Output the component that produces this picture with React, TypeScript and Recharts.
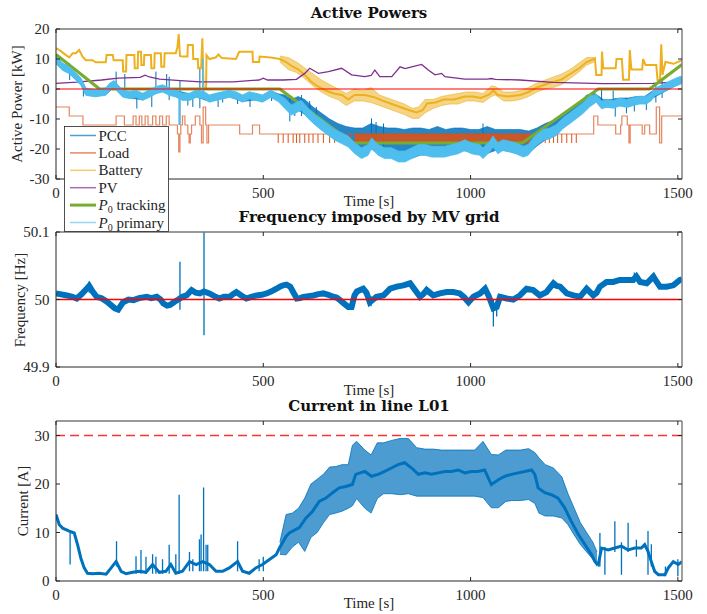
import React from 'react';
import { ComposedChart, Line, Area, XAxis, YAxis, ReferenceLine } from 'recharts';

const T_MAX = 1510;
const xTicks = [0, 500, 1000, 1500];
const p1Ticks = [-30, -20, -10, 0, 10, 20];
const p2Ticks = [49.9, 50, 50.1];
const p3Ticks = [0, 10, 20, 30];

// ---------- Plot 1: Active powers [t, kW] ----------
const p0Tracking = [[0, 11.5], [105, 0], [540, 0], [715, -18], [1125, -18], [1308, 0], [1432, 0], [1510, 8.2]];

// P0 primary: noisy band [t, low, high]
const p0Primary = [[0, 8.4, 10.8], [16, 6.2, 8.6], [32, 5.1, 7.5], [48, 2.9, 5.3], [60, 1.3, 3.7], [72, -2.1, 0.3], [80, -2.3, 0.1], [95, -2.6, -0.2], [110, -2.3, 0.1], [120, -2.1, 0.3], [129, -0.5, 1.9], [140, 0.4, 2.8], [149, -1, 1.4], [161, -2.7, -0.3], [177, -3.2, -0.8], [193, -2.8, -0.4], [209, -3.8, -1.4], [225, -2.8, -0.4], [241, -1.6, 0.8], [257, -1, 1.4], [273, -2.1, 0.3], [289, -2.7, -0.3], [305, -3.8, -1.4], [322, -3.8, -1.4], [338, -2.8, -0.4], [358, -3.3, -0.9], [370, -4.4, -2], [386, -3.8, -1.4], [402, -3.3, -0.9], [418, -2.8, -0.4], [434, -3.3, -0.9], [450, -4.4, -2], [466, -3.3, -0.9], [482, -3.8, -1.4], [498, -4.4, -2], [518, -2.8, -0.4], [536, -4.2, -1.8], [552, -6.5, -3.1], [568, -8.7, -5.3], [584, -7.6, -4.2], [592, -7.2, -3.8], [608, -9.8, -6.4], [625, -12, -8.6], [641, -13.8, -10.2], [657, -15.5, -11.9], [673, -17.1, -13.5], [689, -18.2, -14.6], [705, -19.3, -15.7], [721, -21.6, -18], [737, -23.2, -19.6], [753, -22.1, -18.5], [761, -19.9, -16.3], [777, -22.1, -18.5], [793, -23.2, -19.6], [809, -23.2, -19.6], [826, -24.3, -20.7], [842, -24.3, -20.7], [858, -23.2, -19.6], [874, -22.1, -18.5], [890, -22.1, -18.5], [906, -22.7, -19.1], [922, -22.7, -19.1], [938, -22.7, -19.1], [954, -22.1, -18.5], [970, -21.6, -18], [986, -20.5, -16.9], [1002, -21.6, -18], [1022, -22.1, -18.5], [1030, -23.2, -19.6], [1046, -21, -17.4], [1054, -19.3, -15.7], [1066, -21.6, -18], [1078, -20.5, -16.9], [1094, -21, -17.4], [1110, -21.6, -18], [1127, -22.7, -19.1], [1139, -22.1, -18.5], [1151, -19.9, -16.3], [1159, -18.8, -15.2], [1175, -17.1, -13.5], [1191, -16.6, -13], [1207, -15.5, -11.9], [1223, -13.2, -9.6], [1239, -11.6, -8], [1255, -9.9, -6.3], [1271, -8.2, -4.6], [1287, -6, -2.4], [1303, -4.4, -1.8], [1316, -6.6, -4], [1328, -6.1, -3.5], [1344, -6.4, -3.8], [1360, -5.7, -3.1], [1376, -6.1, -3.5], [1392, -5.5, -2.9], [1408, -5, -2.4], [1424, -5, -2.4], [1436, -3.9, -1.3], [1444, -2.3, 0.3], [1456, -1.6, 1], [1472, -0.5, 2.1], [1488, 0.6, 3.2], [1508, 1.7, 4.3]];
const p0PrimarySpikes = [[297, -12, -1], [354, -1.5, 10.2]];

const pccBand = [[0, 8.5, 11], [16, 6.5, 8.5], [32, 5.3, 7.3], [48, 3.1, 5.1], [60, 1.5, 3.5], [72, -1.9, 0.1], [95, -2.4, -0.4], [120, -1.9, 0.1], [140, 0.6, 2.6], [161, -2.5, -0.5], [177, -3, -1], [209, -3.6, -1.6], [241, -1.4, 0.6], [257, -0.8, 1.2], [289, -2.5, -0.5], [322, -3.6, -1.6], [338, -2.6, -0.6], [370, -4.2, -2.2], [402, -3.1, -1.1], [418, -2.6, -0.6], [450, -4.2, -2.2], [482, -3.6, -1.6], [498, -4.2, -2.2], [518, -2.6, -0.6], [536, -3.6, -1.6], [552, -6, -2], [568, -8, -3.5], [584, -7, -2.5], [600, -8.5, -3.5], [620, -11, -6], [640, -13, -8], [660, -15, -10], [680, -16.5, -11.5], [700, -18, -12.5], [720, -20.5, -13], [740, -22, -13], [760, -20, -11.5], [780, -21.5, -12.5], [800, -22.5, -13], [820, -23, -13], [840, -23.5, -13.5], [860, -23, -13], [880, -22, -13], [900, -22, -13.5], [920, -22, -12.5], [940, -22, -13.5], [960, -21.5, -13], [980, -20.5, -13], [1000, -21, -13.5], [1020, -21.5, -13.5], [1040, -21.5, -12.5], [1060, -20.5, -13.5], [1080, -20.5, -13.5], [1100, -21, -13.5], [1120, -22, -13.5], [1140, -21.5, -14], [1160, -19, -13], [1180, -17, -11.5], [1200, -15.5, -10.5], [1220, -12.5, -8.5], [1240, -11, -6.5], [1260, -9, -5], [1280, -6, -2], [1300, -4, -1.5], [1320, -6, -3.5], [1340, -6, -3.5], [1360, -5.5, -3], [1380, -6, -3], [1400, -5, -2.5], [1420, -4.5, -2.5], [1440, -3, -0.5], [1460, -1.5, 1], [1480, 0, 2], [1500, 1.5, 3.5], [1510, 2, 4]];
const pccSpikes = [[33, 3, 8.5], [66, -2.5, 2], [145, 0.5, 5.8], [166, -1, 5], [195, -6.5, -1], [231, -6, -1], [241, -0.5, 5.8], [267, -1, 5], [273, -3.7, 4.1], [299, -12, 3], [318, -5.5, -1.5], [330, -6, -1.5], [347, -6.4, 7.4], [355, -2, 9], [391, -6, -1.5], [402, -4.5, -1.5], [438, -5, -1.5], [468, -6, -1.5], [482, -4, -1.5], [520, -4, -1], [564, -10.8, -3], [576, -9, -3], [592, -9, -2], [612, -10, -4], [628, -12, -6], [761, -20, -9.8], [772, -19, -11], [790, -20, -11.5], [1030, -20, -11.5], [1316, -5, -0.3], [1344, -5, -0.5], [1349, -9.2, -3], [1376, -8.1, -3], [1395, -7.5, -3], [1424, -7, -3], [1447, -4.5, 2], [1462, -3, 3]];

const loadSteps = [[0, -6], [32, -9], [65, -12], [145, -9], [165, -12], [186, -9], [193, -12], [201, -9], [207, -12], [215, -9], [222, -12], [233, -9], [241, -12], [250, -9], [257, -12], [266, -9], [273, -12], [293, -15], [296, -21], [299, -15], [301, -12], [305, -9], [311, -12], [318, -15], [321, -18], [324, -15], [327, -12], [336, -9], [347, -12], [351, -18], [355, -6], [361, -12], [364, -18], [368, -12], [443, -15], [474, -12], [491, -15], [1297, -9], [1307, -12], [1350, -15], [1362, -12], [1365, -9], [1378, -12], [1382, -18], [1385, -12], [1414, -15], [1420, -12], [1432, -15], [1448, -6], [1456, -18], [1461, -9], [1510, -9]];
const loadBand = [[720, -18, -15], [1143, -18, -15]];
const loadSpikeTimes = [536, 548, 560, 572, 580, 588, 600, 610, 620, 632, 645, 660, 672, 685, 700, 712, 1160, 1170, 1180, 1190, 1200, 1210, 1220, 1232, 1244, 1255];

const batteryLine = [[0, 13.6], [10, 12.8], [25, 11.2], [32, 10.5], [40, 11.9], [48, 11.9], [56, 13], [64, 10.8], [72, 9.6], [88, 9.6], [96, 8.9], [120, 8.9], [122, 11.3], [137, 11.3], [139, 9.6], [161, 9.6], [162, 5.8], [169, 5.8], [170, 11.3], [189, 11.3], [190, 6.9], [197, 6.9], [198, 12.4], [205, 12.4], [206, 8], [212, 8], [213, 11.3], [229, 11.3], [230, 6.9], [237, 6.9], [238, 11.9], [253, 11.9], [254, 7.4], [261, 7.4], [262, 11.9], [289, 11.9], [293, 14], [296, 18.3], [299, 11], [305, 10.8], [317, 10.8], [318, 14.7], [330, 14.7], [331, 10], [342, 10], [343, 6.9], [350, 6.9], [353, 16.9], [356, 0.2], [362, 0.2], [363, 11.3], [370, 10], [385, 10.5], [392, 11.5], [400, 10.3], [434, 10], [442, 12.4], [474, 12.4], [475, 9], [490, 9], [491, 10.8], [518, 10.5], [540, 10], [555, 9], [570, 7.5], [585, 6.5], [600, 4.7], [615, 2.5], [630, 1], [650, -0.5], [670, -1.5], [690, -2], [705, -3.5], [720, -2], [745, -2], [769, -2.8], [790, -4], [810, -5], [830, -6], [850, -7], [870, -7.8], [885, -7], [895, -4.8], [915, -4.5], [935, -3.5], [960, -3.5], [986, -2.5], [1005, -2.5], [1025, -3], [1045, -1.8], [1055, -0.5], [1065, -2], [1090, -2.5], [1120, -2], [1140, -1], [1160, 0.5], [1190, 2], [1220, 3.2], [1240, 5], [1263, 7], [1280, 9], [1298, 10], [1300, 10.2], [1303, 4.7], [1316, 4.7], [1317, 12.5], [1320, 6.9], [1350, 6.9], [1352, 10], [1365, 10], [1368, 3.1], [1382, 3.1], [1384, 13], [1388, 6.5], [1414, 6.5], [1416, 10], [1422, 8], [1448, 8], [1451, 3], [1457, 3], [1460, 14.9], [1463, 4.7], [1470, 9], [1490, 8.4], [1510, 9.6]];
const batteryBand = [[540, 9, 11], [560, 6.5, 10.5], [580, 5.5, 9], [600, 3.5, 7], [620, 1, 5], [640, -1, 3], [660, -2.5, 1.5], [680, -3.5, 0], [700, -5.5, -1.5], [720, -4, 0], [740, -4, -0.5], [760, -4.5, 0.5], [780, -5.5, -2], [800, -6.5, -3], [820, -7.5, -4], [840, -8.5, -5], [860, -9.8, -6.5], [875, -9.8, -6], [890, -8, -3.5], [910, -6.5, -3.5], [930, -5.5, -2.5], [950, -5, -2], [970, -5, -1.5], [990, -4, -1], [1010, -4, -1], [1030, -4.5, -1.5], [1050, -2.5, 1], [1060, -2, 0.8], [1080, -4, -1], [1100, -4, -1], [1120, -3.5, -0.5], [1140, -2.5, 0.5], [1160, -1, 2], [1180, 0, 3], [1200, 0.5, 4], [1220, 1.5, 5], [1240, 3.5, 6.5], [1260, 5.5, 8.5], [1280, 8, 10.5], [1298, 9, 10.5]];

const pvLine = [[0, 1.9], [50, 2.3], [110, 3.0], [150, 3.6], [203, 3.9], [215, 4.6], [225, 4.0], [250, 3.3], [300, 2.8], [349, 2.4], [428, 2.4], [490, 3.0], [500, 3.6], [510, 3.0], [548, 3.0], [580, 3.2], [600, 5.2], [612, 6.9], [633, 5.2], [657, 5.8], [689, 6.9], [713, 4.7], [745, 4.1], [760, 4.5], [769, 6.3], [781, 4.1], [810, 4.1], [830, 7.4], [842, 6.8], [858, 7.4], [882, 8.2], [898, 6.3], [914, 4.7], [930, 5.2], [938, 4.1], [986, 3.3], [1040, 3.3], [1050, 3.5], [1060, 3.2], [1119, 3.0], [1199, 2.2], [1320, 1.8], [1440, 1.9], [1480, 2.2], [1510, 2.2]];

// ---------- Plot 2: Frequency [t, Hz] ----------
const freq = [[0, 50.009], [10, 50.008], [26, 50.006], [40, 50.004], [50, 50.0015], [62, 50.008], [74, 50.016], [80, 50.02], [88, 50.012], [98, 50.004], [110, 50.002], [122, 49.997], [132, 49.992], [142, 49.987], [150, 49.985], [162, 49.996], [175, 50.0], [187, 49.999], [200, 50.002], [219, 50.004], [230, 50.002], [243, 50.004], [252, 50.0], [259, 49.994], [268, 49.991], [275, 49.992], [287, 49.997], [295, 50.0], [305, 50.004], [315, 50.006], [327, 50.014], [337, 50.01], [347, 50.009], [357, 50.012], [370, 50.009], [382, 50.005], [394, 50.0015], [405, 50.004], [419, 50.004], [427, 50.008], [435, 50.011], [447, 50.006], [459, 50.0015], [471, 50.004], [484, 50.006], [496, 50.007], [508, 50.009], [520, 50.012], [532, 50.016], [540, 50.019], [548, 50.021], [556, 50.022], [565, 50.019], [573, 50.01], [581, 50.0015], [589, 50.002], [597, 50.004], [609, 50.005], [621, 50.006], [633, 50.008], [645, 50.009], [657, 50.007], [669, 50.004], [677, 50.003], [685, 49.999], [695, 49.994], [705, 49.989], [713, 49.989], [720, 50.006], [726, 50.012], [741, 50.016], [749, 50.01], [757, 49.996], [765, 50.0], [773, 50.004], [790, 50.006], [806, 50.016], [822, 50.019], [838, 50.021], [854, 50.024], [866, 50.014], [878, 50.004], [886, 50.008], [894, 50.014], [910, 50.006], [926, 50.009], [942, 50.011], [958, 50.011], [974, 50.009], [985, 50.003], [995, 49.996], [1007, 50.004], [1023, 50.009], [1035, 50.016], [1043, 50.006], [1047, 50.0], [1055, 49.987], [1063, 49.989], [1071, 50.004], [1087, 50.0015], [1103, 50.0], [1119, 50.006], [1135, 50.016], [1151, 50.014], [1167, 50.006], [1183, 50.011], [1192, 50.018], [1200, 50.024], [1208, 50.02], [1216, 50.019], [1232, 50.009], [1248, 50.006], [1264, 50.004], [1280, 50.016], [1296, 50.006], [1304, 50.01], [1312, 50.019], [1328, 50.026], [1344, 50.026], [1360, 50.029], [1376, 50.029], [1392, 50.029], [1400, 50.034], [1409, 50.026], [1425, 50.024], [1441, 50.034], [1449, 50.026], [1457, 50.019], [1473, 50.019], [1489, 50.021], [1505, 50.029], [1510, 50.03]];
const freqSpikes = [[80, 50.01, 50.027], [299, 49.985, 50.056], [357, 49.947, 50.1], [760, 49.99, 50.005], [1055, 49.96, 50.0], [1063, 49.975, 49.995], [1395, 50.025, 50.04], [1441, 50.028, 50.038]];
const nominalFreq = 50;

// ---------- Plot 3: Current in line L01 [t, A] ----------
const current = [[0, 13.7], [8, 11.6], [16, 10.9], [32, 10.3], [44, 9.9], [52, 7.5], [60, 4.7], [68, 2.7], [76, 1.6], [88, 1.5], [104, 1.6], [121, 1.4], [133, 2.7], [145, 4.0], [157, 2.0], [169, 1.5], [185, 1.8], [201, 2.0], [217, 1.8], [233, 3.4], [249, 1.8], [265, 2.0], [277, 3.4], [289, 1.6], [305, 2.0], [322, 4.0], [338, 3.4], [354, 4.0], [370, 3.4], [386, 2.0], [402, 2.0], [418, 2.7], [438, 4.0], [450, 2.0], [466, 1.6], [482, 2.7], [498, 3.4], [514, 4.4], [531, 5.4], [539, 6.8], [555, 9.2], [563, 9.9], [571, 10.3], [587, 11.0], [603, 13.0], [619, 14.4], [635, 16.4], [651, 17.1], [667, 18.2], [683, 19.2], [699, 19.5], [715, 19.9], [723, 22.0], [745, 22.6], [761, 21.6], [777, 22.0], [793, 22.6], [809, 23.3], [825, 24.0], [841, 24.4], [858, 23.3], [874, 22.0], [890, 22.3], [906, 22.0], [922, 22.3], [938, 22.6], [954, 22.6], [970, 22.9], [986, 22.3], [1002, 22.6], [1018, 22.6], [1034, 22.9], [1050, 19.9], [1067, 20.9], [1083, 21.6], [1099, 22.0], [1115, 22.3], [1131, 22.6], [1147, 22.9], [1155, 22.0], [1163, 19.2], [1179, 18.2], [1195, 17.8], [1211, 17.1], [1227, 15.1], [1243, 12.3], [1260, 9.6], [1276, 7.5], [1292, 5.4], [1300, 4.0], [1308, 3.4], [1316, 6.8], [1332, 6.4], [1348, 6.8], [1364, 7.2], [1380, 6.4], [1396, 6.8], [1412, 6.8], [1420, 7.5], [1428, 6.1], [1436, 4.0], [1444, 2.0], [1453, 1.3], [1469, 1.3], [1477, 2.7], [1489, 4.0], [1501, 3.4], [1510, 4.0]];
const currentBand = [[540, 5.5, 8], [555, 5.4, 13.7], [570, 7, 14], [585, 8, 15], [600, 6.1, 17.1], [615, 9, 20], [630, 10, 21], [645, 12, 22], [660, 13.7, 23.5], [675, 14, 23.6], [690, 14.4, 24], [705, 15, 24], [715, 15.5, 28], [725, 17, 28.8], [745, 15, 27], [760, 14, 26], [775, 17, 28.5], [790, 18, 28.5], [810, 18, 29], [830, 17.8, 29.4], [850, 18, 29.4], [870, 17.5, 27.5], [890, 17.5, 27.2], [910, 17.5, 27.2], [930, 17.5, 27], [950, 17.5, 27], [970, 17.5, 27], [990, 17.5, 27], [1010, 17.5, 27], [1030, 17.2, 28.8], [1050, 15.1, 26.1], [1067, 15.1, 26], [1085, 16.4, 27], [1100, 16.6, 27], [1120, 16.6, 27], [1140, 16.8, 27.3], [1155, 16, 26.5], [1165, 14, 25.4], [1180, 13.4, 24], [1200, 13.4, 23.3], [1220, 13, 21.5], [1235, 11.6, 18], [1250, 9.5, 15], [1265, 7.5, 12], [1280, 6, 10], [1295, 4.5, 8], [1305, 3, 6]];
const currentSpikes = [[34, 3.4, 10], [146, 3, 8.2], [193, 1.5, 5.1], [205, 1.5, 6.4], [217, 1.5, 5], [233, 1.5, 5.5], [241, 1.5, 5], [257, 1.5, 4.5], [273, 1.5, 7.5], [289, 1.5, 5.5], [297, 1.5, 17.8], [322, 2, 6], [330, 2, 4.5], [346, 2, 8.6], [350, 2, 9.6], [356, 2, 19.3], [362, 2, 7.5], [366, 2, 7.5], [438, 2, 8.2], [490, 2, 4.5], [500, 2, 5], [1312, 3, 9.9], [1324, 1.3, 7], [1348, 6, 12.3], [1364, 1.3, 8], [1380, 6, 12], [1400, 5, 8.5], [1428, 1.3, 10.3], [1436, 3, 7.6], [1470, 1, 3], [1500, 1, 4.5]];
const currentLimit = 30;

// ---------- helpers ----------
const pts = (arr: number[][]) => arr.map(([t, v]) => ({ t, v }));
const band = (arr: number[][]) => arr.map(([t, lo, hi]) => ({ t, r: [lo, hi] }));
const spikes = (arr: number[][]) =>
  arr.flatMap(([t, lo, hi]) => [{ t, v: lo }, { t, v: hi }, { t, v: null as number | null }]);

const SERIF = '"Liberation Serif", "Times New Roman", serif';
const TITLE_FONT = '"DejaVu Serif", serif';
const DARK = '#262626';
const AX = { stroke: DARK, strokeWidth: 1 };
const AX2 = { stroke: '#777777', strokeWidth: 1.4 };
const TICK = { fill: DARK, fontSize: 15, fontFamily: SERIF };
const blank = () => <g />;

const C = {
  pcc: '#0072BD',
  load: '#D95319',
  battery: '#EDB120',
  pv: '#7E2F8E',
  track: '#77AC30',
  primary: '#4DBEEE',
};

function frame(yDomain: number[], yTicks: number[], xHeight: number) {
  return [
    <XAxis key="xb" type="number" dataKey="t" domain={[0, T_MAX]} ticks={xTicks} interval={0}
      allowDataOverflow height={xHeight} tickSize={-4} tickMargin={12} axisLine={AX} tickLine={AX} tick={TICK} />,
    <XAxis key="xt" xAxisId="top" orientation="top" type="number" dataKey="t" domain={[0, T_MAX]}
      ticks={xTicks} interval={0} allowDataOverflow height={1} tickSize={-4} axisLine={AX2} tickLine={AX} tick={blank} />,
    <YAxis key="yl" type="number" domain={yDomain} ticks={yTicks} interval={0} allowDataOverflow width={56}
      tickSize={-4} tickMargin={10.5} axisLine={AX} tickLine={AX} tick={TICK} />,
    <YAxis key="yr" yAxisId="r" orientation="right" type="number" domain={yDomain} ticks={yTicks} interval={0}
      allowDataOverflow width={1} tickSize={-4} axisLine={AX2} tickLine={AX} tick={blank} />,
  ];
}

const lineBase = { isAnimationActive: false, dot: false, activeDot: false, dataKey: 'v', legendType: 'none' as const };
const areaBase = { isAnimationActive: false, dot: false, activeDot: false, dataKey: 'r', type: 'linear' as const, legendType: 'none' as const };

function ActivePowers() {
  return (
    <ComposedChart width={707} height={200} margin={{ top: 28, right: 24, left: 0, bottom: 0 }}>
      {frame([-30, 20], p1Ticks, 21)}
      <Area {...areaBase} zIndex={401} data={band(pccBand)} stroke={C.pcc} strokeWidth={0.6} fill={C.pcc} fillOpacity={0.85} />
      <Line {...lineBase} zIndex={402} data={spikes(pccSpikes)} stroke={C.pcc} strokeWidth={1} connectNulls={false} />
      <Area {...areaBase} zIndex={403} data={band(loadBand)} stroke={C.load} strokeWidth={0.6} fill={C.load} fillOpacity={0.9} />
      <Line {...lineBase} zIndex={404} data={pts(loadSteps)} type="stepAfter" stroke={C.load} strokeOpacity={0.7} strokeWidth={1.2} />
      <Line {...lineBase} zIndex={405} data={spikes(loadSpikeTimes.map((t) => [t, -18, -15]))} stroke={C.load} strokeWidth={1} connectNulls={false} />
      <Area {...areaBase} zIndex={406} data={band(batteryBand)} stroke={C.battery} strokeWidth={0.6} fill={C.battery} fillOpacity={0.55} />
      <Line {...lineBase} zIndex={407} data={pts(batteryLine)} stroke={C.battery} strokeWidth={2} />
      <Line {...lineBase} zIndex={408} data={pts(pvLine)} stroke={C.pv} strokeWidth={1.3} />
      <Line {...lineBase} zIndex={409} data={pts(p0Tracking)} stroke={C.track} strokeWidth={3.2} />
      <Area {...areaBase} zIndex={410} data={band(p0Primary)} stroke={C.primary} strokeWidth={0.8} fill={C.primary} fillOpacity={1} />
      <Line {...lineBase} zIndex={411} data={spikes(p0PrimarySpikes)} stroke={C.primary} strokeWidth={1.5} connectNulls={false} />
      <ReferenceLine zIndex={412} isFront y={0} stroke="#ff0000" strokeWidth={1.1} />
    </ComposedChart>
  );
}

function Frequency() {
  return (
    <ComposedChart width={707} height={200} margin={{ top: 31, right: 24, left: 0, bottom: 0 }}>
      {frame([49.9, 50.1], p2Ticks, 33)}
      <Line {...lineBase} zIndex={401} data={pts(freq)} stroke={C.pcc} strokeWidth={6} />
      <Line {...lineBase} zIndex={402} data={spikes(freqSpikes)} stroke={C.pcc} strokeWidth={1.3} connectNulls={false} />
      <ReferenceLine zIndex={403} isFront y={nominalFreq} stroke="#ff0000" strokeWidth={1.4} />
    </ComposedChart>
  );
}

function Current() {
  return (
    <ComposedChart width={707} height={214} margin={{ top: 20, right: 24, left: 0, bottom: 0 }}>
      {frame([0, 33], p3Ticks, 33)}
      <Area {...areaBase} zIndex={401} data={band(currentBand)} stroke={C.pcc} strokeWidth={0.8} fill={C.pcc} fillOpacity={0.7} />
      <Line {...lineBase} zIndex={402} data={spikes(currentSpikes)} stroke={C.pcc} strokeWidth={1.3} connectNulls={false} />
      <Line {...lineBase} zIndex={403} data={pts(current)} stroke={C.pcc} strokeWidth={3} />
      <ReferenceLine zIndex={404} isFront y={currentLimit} stroke="#ff3030" strokeWidth={1.4} strokeDasharray="9 5" />
    </ComposedChart>
  );
}

const legendItems = [
  { label: 'PCC', color: '#4d9ed6', w: 1.5 },
  { label: 'Load', color: '#e8875e', w: 1.5 },
  { label: 'Battery', color: '#f3cd70', w: 1.5 },
  { label: 'PV', color: '#a56fb0', w: 1.5 },
  { label: 'tracking', color: '#77AC30', w: 3, p0: true },
  { label: 'primary', color: '#94d6f3', w: 1.5, p0: true },
];

function Overlay() {
  return (
    <svg width={707} height={614} style={{ position: 'absolute', left: 0, top: 0, pointerEvents: 'none' }}>
      <g fontFamily={TITLE_FONT} fontWeight="bold" fontSize={15} fill="#111" textAnchor="middle">
        <text x={369} y={18}>Active Powers</text>
        <text x={369} y={222}>Frequency imposed by MV grid</text>
        <text x={369} y={411}>Current in line L01</text>
      </g>
      <g fontFamily={SERIF} fontSize={15} fill={DARK} textAnchor="middle">
        <text x={369} y={206}>Time [s]</text>
        <text x={369} y={395}>Time [s]</text>
        <text x={369} y={608}>Time [s]</text>
        <text transform="translate(22,104) rotate(-90)">Active Power [kW]</text>
        <text transform="translate(25,300) rotate(-90)">Frequency [Hz]</text>
        <text transform="translate(28,501) rotate(-90)">Current [A]</text>
      </g>
      <rect x={64.5} y={126.5} width={104} height={105} fill="#ffffff" stroke={DARK} strokeWidth={0.8} />
      {legendItems.map((it, i) => {
        const yc = 135.5 + i * 17.4;
        return (
          <g key={it.label}>
            <line x1={70} x2={96} y1={yc} y2={yc} stroke={it.color} strokeWidth={it.w} />
            <text x={98.5} y={yc + 5} fontFamily={SERIF} fontSize={15} fill={DARK}>
              {it.p0 ? (
                <>
                  <tspan fontStyle="italic">P</tspan>
                  <tspan fontSize={10} dy={3}>0</tspan>
                  <tspan dy={-3}>{' ' + it.label}</tspan>
                </>
              ) : (
                it.label
              )}
            </text>
          </g>
        );
      })}
    </svg>
  );
}

export default function App() {
  return (
    <div style={{ position: 'absolute', left: 0, top: 0, width: 707, height: 614, background: '#ffffff' }}>
      <div style={{ position: 'absolute', left: 0, top: 0 }}><ActivePowers /></div>
      <div style={{ position: 'absolute', left: 0, top: 200 }}><Frequency /></div>
      <div style={{ position: 'absolute', left: 0, top: 400 }}><Current /></div>
      <Overlay />
    </div>
  );
}
